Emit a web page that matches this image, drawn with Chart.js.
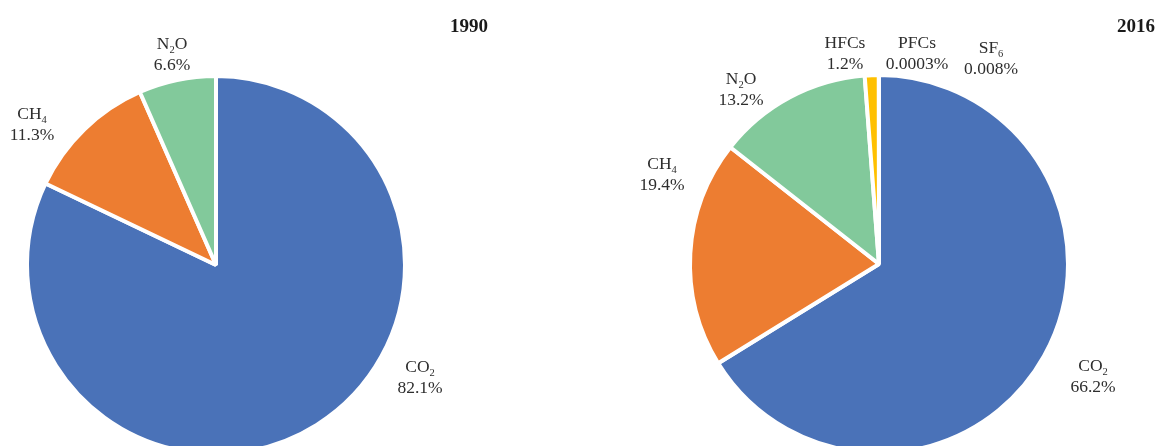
<!DOCTYPE html>
<html><head><meta charset="utf-8">
<script src="https://cdn.jsdelivr.net/npm/chart.js@4.4.1/dist/chart.umd.min.js"></script>
<style>
html,body{margin:0;padding:0;background:#fff;width:1160px;height:446px;overflow:hidden;}
#wrap{position:relative;width:1160px;height:446px;overflow:hidden;}
canvas{position:absolute;top:0;}
</style></head><body>
<div id="wrap">
<canvas id="c1" width="580" height="528" style="left:0px"></canvas>
<canvas id="c2" width="580" height="528" style="left:580px"></canvas>
</div>
<script>
// ---- data ----
const years = ['1990', '2016'];
const gases1990 = ['CO2', 'CH4', 'N2O'];
const shares1990 = [82.1, 11.3, 6.6];
const gases2016 = ['CO2', 'CH4', 'N2O', 'HFCs', 'PFCs', 'SF6'];
const shares2016 = [66.2, 19.4, 13.2, 1.2, 0.0003, 0.008];

// ---- styling / layout (not data) ----
const gasColors = {CO2:'#4A72B8', CH4:'#ED7D31', N2O:'#82C99B', HFCs:'#FFC000', PFCs:'#A5A5A5', SF6:'#5B9BD5'};
const labelLayout1990 = {CO2:[204,101], CH4:[-184,-152], N2O:[-44,-222]};
const labelLayout2016 = {CO2:[214,101], CH4:[-217,-101], N2O:[-138,-186], HFCs:[-34,-222], PFCs:[38,-222], SF6:[112,-217]};
const FONT = '17.5px "Liberation Serif", "DejaVu Serif", serif';
const SUBFONT = '10.5px "Liberation Serif", "DejaVu Serif", serif';

function drawRich(ctx, name, cx, baseline) {
  const parts = name.split(/(\d+)/).filter(s => s.length);
  const segs = parts.map(p => {
    const sub = /^\d+$/.test(p);
    ctx.font = sub ? SUBFONT : FONT;
    return {t:p, sub, w: ctx.measureText(p).width};
  });
  const total = segs.reduce((a,s)=>a+s.w,0);
  let x = cx - total/2;
  ctx.textAlign = 'left';
  ctx.textBaseline = 'alphabetic';
  segs.forEach(s => {
    ctx.font = s.sub ? SUBFONT : FONT;
    ctx.fillText(s.t, x, baseline + (s.sub ? 3.5 : 0));
    x += s.w;
  });
}

const outLabels = {
  id: 'outLabels',
  afterDatasetsDraw(chart, args, opts) {
    const arc = chart.getDatasetMeta(0).data[0];
    const cx = arc.x, cy = arc.y;
    const ctx = chart.ctx;
    ctx.save();
    ctx.fillStyle = '#2e2e2e';
    chart.data.labels.forEach((name, i) => {
      const off = opts.layout[name];
      const x = cx + off[0], y = cy + off[1];
      drawRich(ctx, name, x, y + 6);
      ctx.font = FONT;
      ctx.textAlign = 'center';
      ctx.textBaseline = 'alphabetic';
      ctx.fillText(chart.data.datasets[0].data[i] + '%', x, y + 21 + 6);
    });
    ctx.font = 'bold 19px "Liberation Serif", "DejaVu Serif", serif';
    ctx.fillStyle = '#1a1a1a';
    ctx.textAlign = 'center';
    ctx.fillText(opts.title, cx + opts.titleOffset[0], cy + opts.titleOffset[1] + 6);
    ctx.restore();
  }
};

function makePie(id, gases, shares, title, layout, titleOffset, padding) {
  return new Chart(document.getElementById(id), {
    type: 'pie',
    data: {
      labels: gases,
      datasets: [{
        data: shares,
        backgroundColor: gases.map(g => gasColors[g]),
        borderColor: '#ffffff',
        borderWidth: 4,
        radius: 189,
        clip: false
      }]
    },
    options: {
      responsive: false,
      animation: false,
      events: [],
      layout: {padding: padding},
      plugins: {
        legend: {display: false},
        tooltip: {enabled: false},
        title: {display: false},
        outLabels: {layout: layout, title: title, titleOffset: titleOffset}
      }
    },
    plugins: [outLabels]
  });
}

makePie('c1', gases1990, shares1990, years[0], labelLayout1990, [253,-239], {left:0, right:148, top:2, bottom:0});
makePie('c2', gases2016, shares2016, years[1], labelLayout2016, [257,-238], {left:18, right:0, top:0, bottom:0});
</script>
</body></html>
